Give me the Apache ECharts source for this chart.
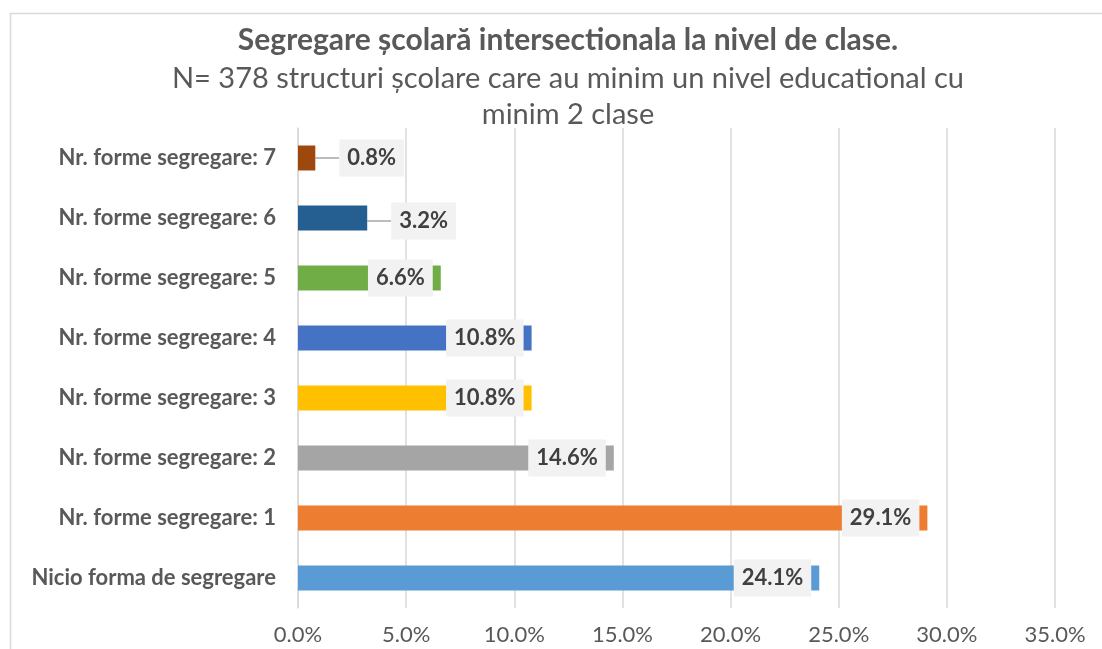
<!DOCTYPE html>
<html lang="ro">
<head>
    <meta charset="UTF-8">
    <title>Segregare scolara</title>
    <script src="https://cdn.jsdelivr.net/npm/echarts@6/dist/echarts.min.js"></script>
    <style>
        body { margin: 0; background: #fff; }
    </style>
</head>
<body>
    <div id="main" style="width:1102px;height:649px"></div>
    <script>
        var categories = ['Nicio forma de segregare', 'Nr. forme segregare: 1', 'Nr. forme segregare: 2',
            'Nr. forme segregare: 3', 'Nr. forme segregare: 4', 'Nr. forme segregare: 5',
            'Nr. forme segregare: 6', 'Nr. forme segregare: 7'];
        var values = [24.1, 29.1, 14.6, 10.8, 10.8, 6.6, 3.2, 0.8];
        var colors = ['#5b9bd5', '#ed7d31', '#a5a5a5', '#ffc000', '#4472c4', '#70ad47', '#255e91', '#9e480e'];

        var font = 'Lato, "Open Sans", sans-serif';
        var myChart = echarts.init(document.getElementById('main'));

        var data = [];
        for (var i = 0; i < values.length; i++) {
            var item = { value: values[i], itemStyle: { color: colors[i] } };
            // small bars: label sits outside with a leader line
            if (values[i] < 5) {
                item.label = { position: 'right', distance: 0 };
                item.labelLine = { show: true, lineStyle: { color: '#a6a6a6', width: 1.5 } };
            }
            data.push(item);
        }

        var option = {
            backgroundColor: '#fff',
            graphic: [{
                type: 'rect', left: 8, top: 11,
                shape: { width: 1130, height: 700 },
                style: { fill: 'none', stroke: '#d9d9d9', lineWidth: 1.5 }
            }],
            title: {
                text: 'Segregare școlară intersectionala la nivel de clase.',
                subtext: 'N= 378 structuri școlare care au minim un nivel educational cu\nminim 2 clase',
                left: 563, top: 20, textAlign: 'center', itemGap: 6,
                textStyle: { fontFamily: font, fontSize: 30, fontWeight: 'bold', color: '#595959' },
                subtextStyle: { fontFamily: font, fontSize: 29, color: '#595959', lineHeight: 36 }
            },
            grid: { left: 298, right: 47, top: 128, bottom: 41, containLabel: false },
            xAxis: {
                type: 'value', min: 0, max: 35, interval: 5,
                axisLine: { show: false }, axisTick: { show: false },
                splitLine: { lineStyle: { color: '#d9d9d9', width: 1.5 } },
                axisLabel: {
                    margin: 16, fontFamily: font, fontSize: 22, color: '#595959',
                    formatter: function (v) { return v.toFixed(1) + '%'; }
                }
            },
            yAxis: {
                type: 'category', data: categories,
                axisLine: { lineStyle: { color: '#d9d9d9', width: 1.5 } },
                axisTick: { show: false },
                axisLabel: { margin: 22, fontFamily: font, fontSize: 22, fontWeight: 'bold', color: '#595959' }
            },
            series: [{
                type: 'bar', data: data, barWidth: 25,
                label: {
                    show: true, position: 'insideRight', distance: 8,
                    formatter: function (p) { return p.value.toFixed(1) + '%'; },
                    fontFamily: font, fontSize: 22, fontWeight: 'bold', color: '#404040',
                    backgroundColor: '#f2f2f2', padding: [8, 8, 7, 8]
                },
                labelLayout: function (p) {
                    if (values[p.dataIndex] < 5) return { dx: 24, dy: p.dataIndex === 6 ? 3 : 0 };
                    return {};
                }
            }]
        };
        myChart.setOption(option);
    </script>
</body>
</html>
